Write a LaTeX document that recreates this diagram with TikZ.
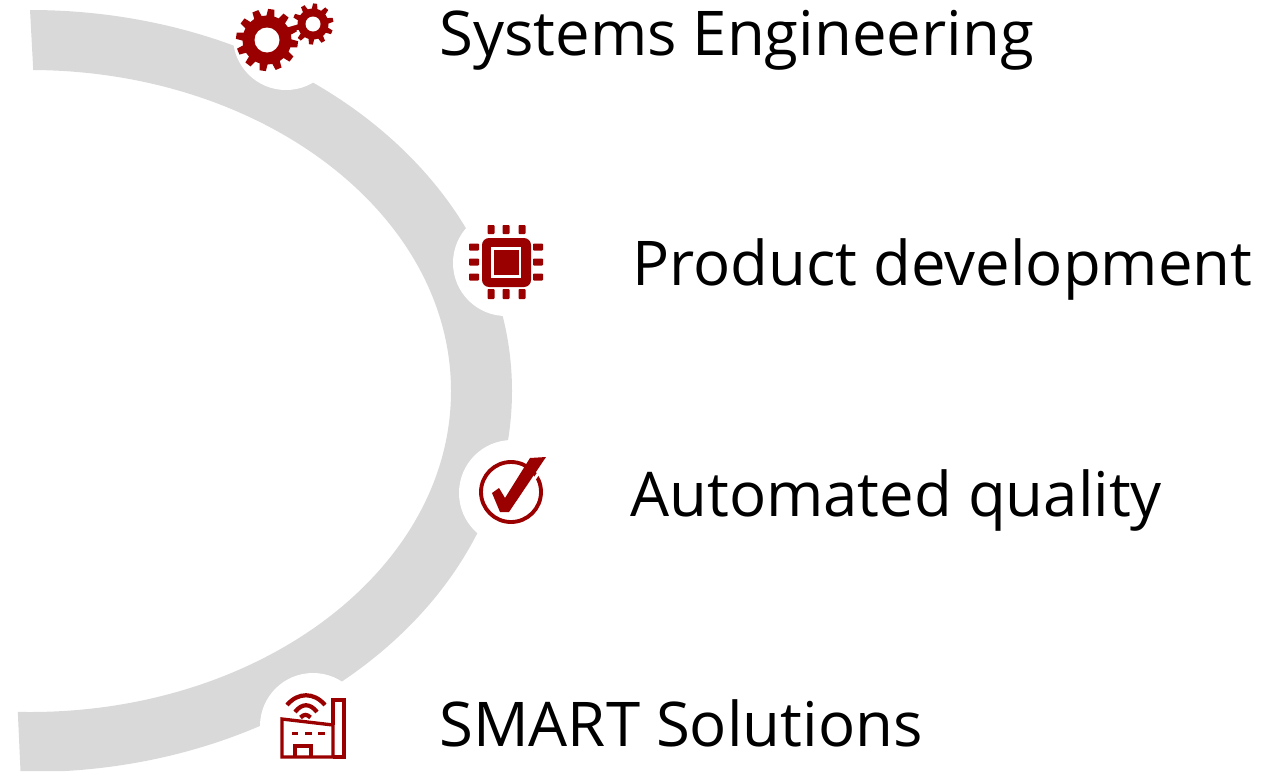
\documentclass[tikz,border=0pt]{standalone}
\usepackage{fontspec}
\setmainfont{Open Sans}
\usepackage{tikz}
\definecolor{ringgrey}{HTML}{D9D9D9}
\definecolor{icondarkred}{HTML}{9A0000}
\tikzset{
 label/.style={anchor=base west,inner sep=0pt,text=black,font=\fontsize{35.1}{40}\selectfont},
 iconfill/.style={fill=icondarkred,draw=none},
 iconline/.style={draw=icondarkred,line width=1.9pt,fill=none},
 wifiline/.style={draw=icondarkred,line width=2.4pt,fill=none},
 pin/.style={fill=icondarkred,rounded corners=0.5pt}
}
% gear: x, y, body radius, tooth radius, hole radius, number of teeth, start angle
\newcommand{\gearicon}[7]{
 \fill[iconfill] (#1,#2) circle (#3);
 \pgfmathsetmacro{\toothstep}{360/#6}
 \foreach \i in {1,...,#6}{
  \pgfmathsetmacro{\toothangle}{#7+\i*\toothstep}
  \fill[iconfill,shift={(#1,#2)},rotate=\toothangle] (#3-2,-0.13*#3-1) -- (#4,-0.13*#3) -- (#4,0.13*#3) -- (#3-2,0.13*#3+1) -- cycle;
 }
 \fill[white] (#1,#2) circle (#5);
}
\begin{document}
\begin{tikzpicture}[x=0.02cm,y=-0.02cm]
\useasboundingbox (0,0) rectangle (1266,771);

% grey ring
\begin{scope}
\clip (29.5,0) -- (33.5,75) -- (200,391) -- (17.5,705) -- (20.5,771) -- (700,771) -- (700,0) -- cycle;
\fill[ringgrey,even odd rule] (30,391) ellipse [x radius=482,y radius=381] (30,391) ellipse [x radius=421,y radius=321];
\end{scope}

% white discs under the icons
\fill[white] (286,37) circle (53);
\fill[white] (506,263) circle (53);
\fill[white] (512,493) circle (53);
\fill[white] (313,726) circle (53);

% gears
\gearicon{267}{40}{24.5}{31}{12.5}{12}{-8}
\gearicon{313}{24}{15.5}{20.5}{7.5}{10}{12}

% chip
\fill[iconfill,rounded corners=4pt] (482,238) rectangle (531,287);
\draw[white,line width=1.2pt] (492.5,248.5) rectangle (520,276.5);
\foreach \x in {491,506,522}{
 \fill[pin] (\x-3.5,225) rectangle (\x+3.5,234);
 \fill[pin] (\x-3.5,289) rectangle (\x+3.5,299);
}
\foreach \y in {247,262,277}{
 \fill[pin] (469,\y-3.5) rectangle (479,\y+3.5);
 \fill[pin] (533,\y-3.5) rectangle (543,\y+3.5);
}

% check
\draw[iconline,line width=2.2pt] (511,492) circle (30);
\draw[white,line width=1.6pt] (540,471) -- (531,484);
\fill[iconfill] (546,457) -- (530,458) -- (505,498) -- (499,488) -- (492,493) -- (500,512) -- (509,512) -- cycle;

% factory
\draw[iconline] (282,757) -- (282,719) -- (333,725) -- (333,757) -- cycle;
\draw[iconline] (333,757) -- (344,757) -- (344,700) -- (333,700) -- (333,725);
\draw[iconline] (295,757) -- (295,746) -- (311,746) -- (311,757);
\draw[icondarkred,line width=1.7pt] (292,733.5) -- (298,733.5) (305,733.5) -- (312,733.5) (318,733.5) -- (325,733.5);
\draw[wifiline] (287,705) .. controls (298,692) and (314,692) .. (325,705);
\draw[wifiline] (295,712) .. controls (302,703) and (310,703) .. (317,712);
\draw[wifiline] (300.5,717.5) .. controls (304,714) and (307,714) .. (310.5,717.5);

% labels
\node[label] (systems) at (439,55) {Systems Engineering};
\node[label] (product) at (632,285) {Product development};
\node[label] (quality) at (630,516) {Automated quality};
\node[label] (smart) at (439,746) {SMART Solutions};
\end{tikzpicture}
\end{document}
